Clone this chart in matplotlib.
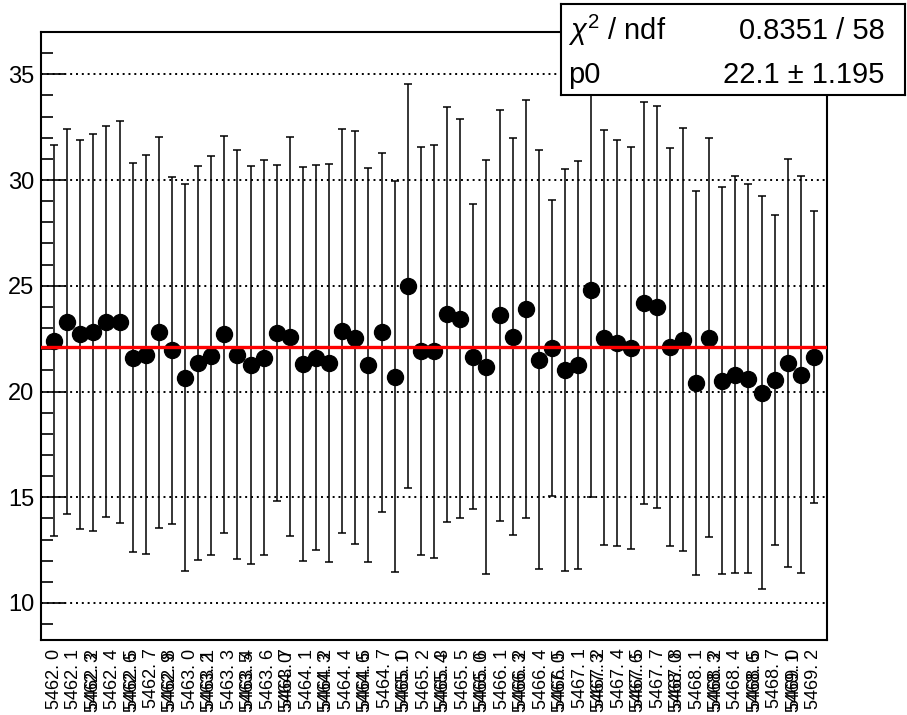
import math
import numpy as np
import matplotlib
matplotlib.use("Agg")
import matplotlib.pyplot as plt
import matplotlib.transforms as mtransforms
from matplotlib.ticker import MultipleLocator

plt.rcParams['font.family'] = ['Liberation Sans', 'DejaVu Sans']
plt.rcParams['mathtext.fontset'] = 'custom'
plt.rcParams['mathtext.rm'] = 'Liberation Sans'
plt.rcParams['mathtext.it'] = 'Liberation Sans:italic'

# run.subrun labels, one per point
runs = ["5462. 0", "5462. 1", "5462. 2", "5462. 3", "5462. 4", "5462. 5", "5462. 6",
        "5462. 7", "5462. 8", "5462. 9", "5463. 0", "5463. 1", "5463. 2", "5463. 3",
        "5463. 4", "5463. 5", "5463. 6", "5463. 7", "5464. 0", "5464. 1", "5464. 2",
        "5464. 3", "5464. 4", "5464. 5", "5464. 6", "5464. 7", "5465. 0", "5465. 1",
        "5465. 2", "5465. 3", "5465. 4", "5465. 5", "5465. 6", "5466. 0", "5466. 1",
        "5466. 2", "5466. 3", "5466. 4", "5466. 5", "5467. 0", "5467. 1", "5467. 2",
        "5467. 3", "5467. 4", "5467. 5", "5467. 6", "5467. 7", "5467. 8", "5468. 0",
        "5468. 1", "5468. 2", "5468. 3", "5468. 4", "5468. 5", "5468. 6", "5468. 7",
        "5469. 0", "5469. 1", "5469. 2"]

values = [22.4, 23.3, 22.7, 22.8, 23.3, 23.3, 21.6, 21.75, 22.8, 21.95,
          20.65, 21.35, 21.7, 22.7, 21.75, 21.25, 21.6, 22.75, 22.6, 21.3,
          21.6, 21.35, 22.85, 22.55, 21.25, 22.8, 20.7, 25.0, 21.9, 21.9,
          23.65, 23.45, 21.65, 21.15, 23.6, 22.6, 23.9, 21.5, 22.05, 21.0,
          21.25, 24.8, 22.55, 22.3, 22.05, 24.2, 24.0, 22.1, 22.45, 20.4,
          22.55, 20.5, 20.8, 20.6, 19.95, 20.55, 21.35, 20.8, 21.65]

errors = [9.25, 9.1, 9.2, 9.4, 9.25, 9.5, 9.2, 9.45, 9.25, 8.2,
          9.15, 9.3, 9.45, 9.4, 9.65, 9.4, 9.35, 7.95, 9.45, 9.3,
          9.1, 9.4, 9.55, 9.75, 9.3, 8.5, 9.25, 9.55, 9.65, 9.75,
          9.8, 9.45, 7.2, 9.8, 9.7, 9.4, 9.9, 9.9, 7.0, 9.5,
          9.65, 9.8, 9.8, 9.6, 9.5, 9.5, 9.5, 9.4, 10.0, 9.1,
          9.45, 9.15, 9.4, 9.2, 9.3, 7.8, 9.65, 9.4, 6.9]

fit_p0 = 22.1
chi2_text = "0.8351 / 58"
p0_text = "22.1 \u00b1 1.195"

fig = plt.figure(figsize=(9.07, 7.15), dpi=100)
ax = fig.add_axes([0.0452, 0.1049, 0.8666, 0.8503])

x = np.arange(len(values))
ax.errorbar(x, values, yerr=errors, fmt='o', color='black', ms=11.5,
            elinewidth=1.1, capsize=3, capthick=1.1, zorder=3)
ax.axhline(fit_p0, color='red', lw=2.4, zorder=4)

ax.set_xlim(-1, 59)
ax.set_ylim(8.25, 37)
ax.yaxis.set_major_locator(MultipleLocator(5))
ax.yaxis.set_minor_locator(MultipleLocator(1))
ax.tick_params(axis='y', which='major', direction='in', length=17, width=1.2,
               labelsize=17, pad=5)
ax.tick_params(axis='y', which='minor', direction='in', length=8.6, width=1.2)
ax.set_xticks([])
ax.yaxis.grid(True, which='major', linestyle=(0, (1, 2)), color='black', lw=1.4)
ax.set_axisbelow(True)
for s in ax.spines.values():
    s.set_linewidth(1.5)

# crowded alphanumeric labels, as the original axis draws them
trans = mtransforms.blended_transform_factory(ax.transData, ax.transAxes)
ncol = 40
prev_col = -1
for k, lab in enumerate(runs):
    col = math.ceil(2 * k / 3)
    xpos = col * (len(values) - 1) / (ncol - 1)
    ypos = -0.014
    if col == prev_col:
        ypos -= 0.006
    ax.text(xpos, ypos, lab, transform=trans, rotation=90, ha='center', va='top',
            fontsize=13)
    prev_col = col

# fit statistics box
sb = fig.add_axes([0.619, 0.867, 0.379, 0.127])
sb.set_xticks([])
sb.set_yticks([])
sb.set_facecolor('white')
for s in sb.spines.values():
    s.set_linewidth(1.5)
sb.text(0.018, 0.71, r"$\chi^{2}$ / ndf", fontsize=21, va='center', ha='left')
sb.text(0.94, 0.71, chi2_text, fontsize=21, va='center', ha='right')
sb.text(0.018, 0.22, "p0", fontsize=21, va='center', ha='left')
sb.text(0.94, 0.22, p0_text, fontsize=21, va='center', ha='right')

fig.savefig("out.png", dpi=100)
